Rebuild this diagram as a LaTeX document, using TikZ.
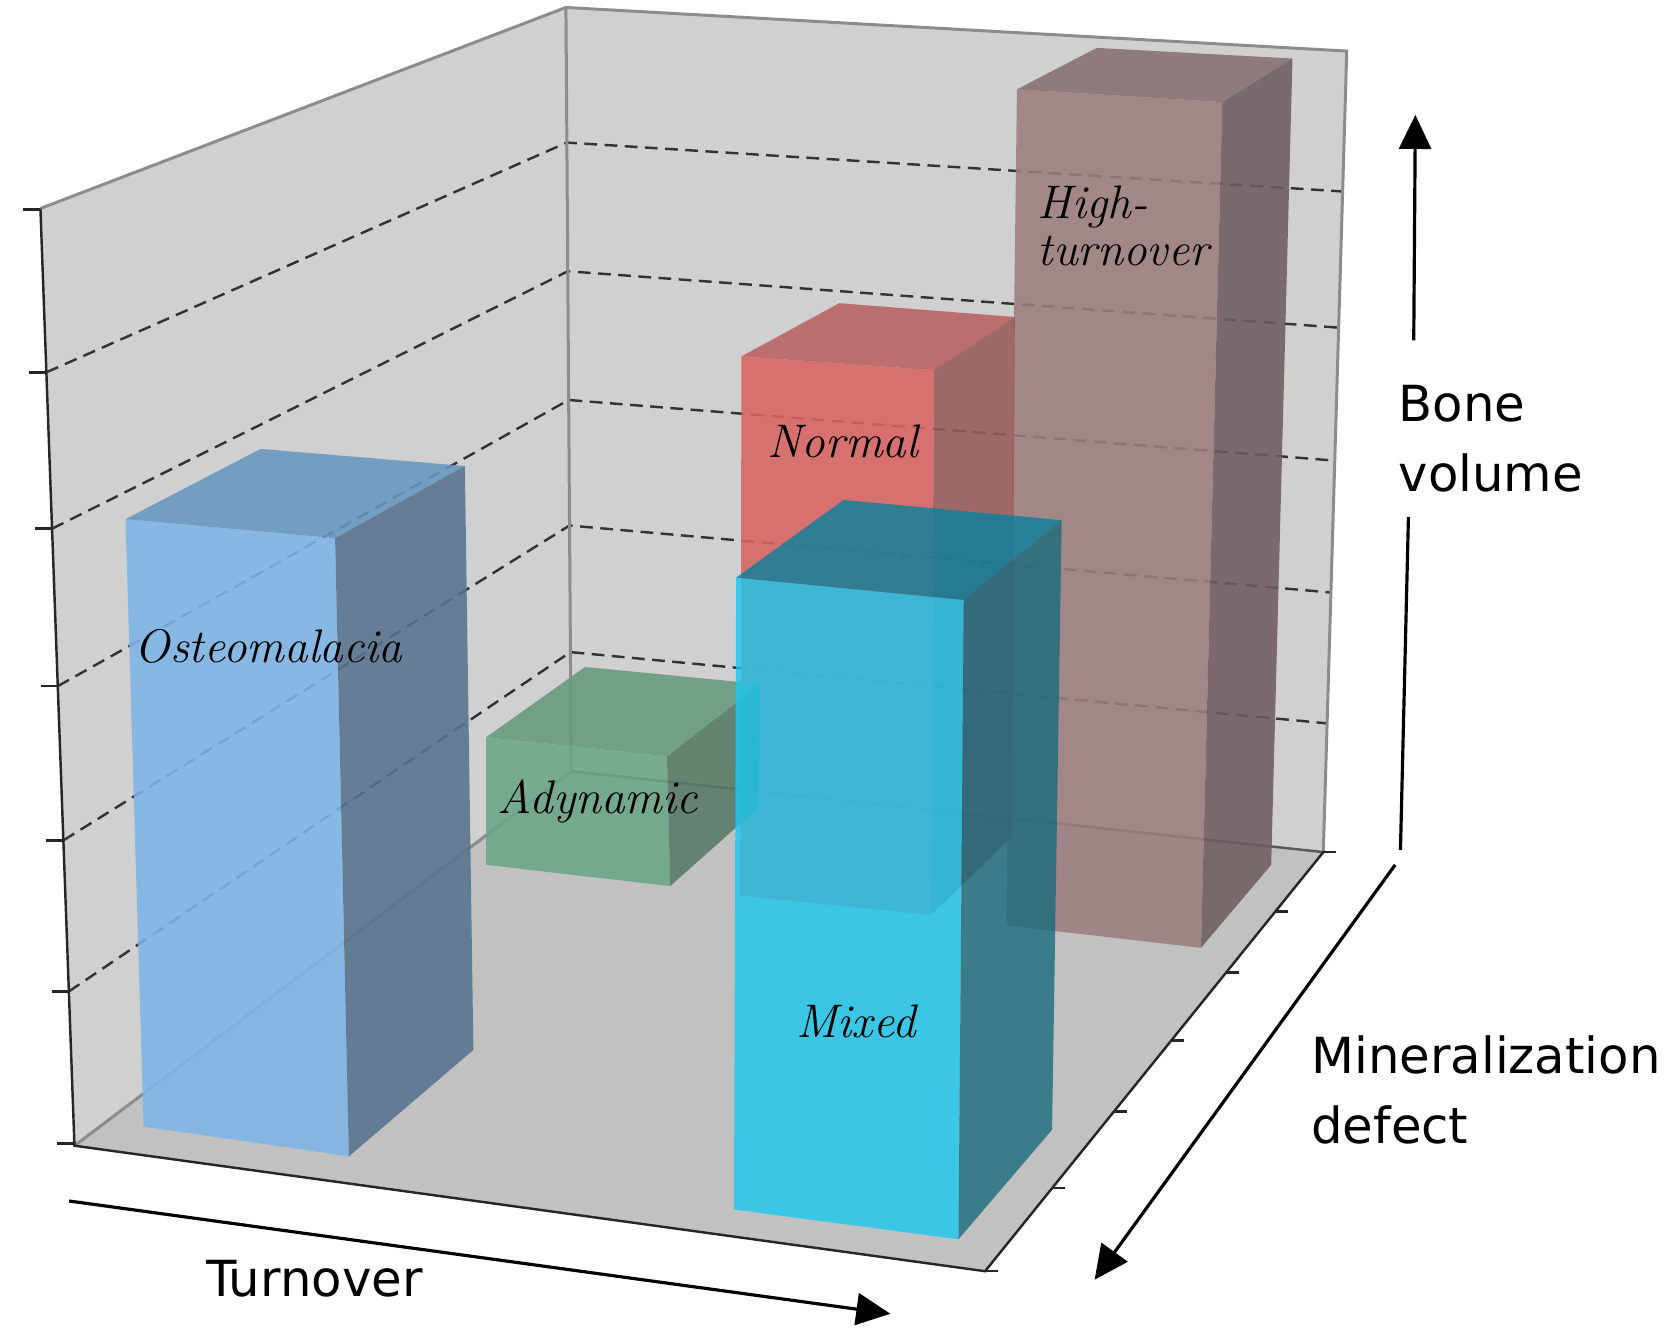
\documentclass[tikz,border=0pt]{standalone}
\usepackage{fontspec}
\newfontfamily\axisfont{DejaVu Sans}
\usetikzlibrary{arrows.meta}
\definecolor{wallc}{HTML}{D0D0D0}
\definecolor{floorc}{HTML}{C1C1C1}
\definecolor{ostF}{HTML}{7DB5E6}
\definecolor{ostT}{HTML}{6898C0}
\definecolor{ostS}{HTML}{57738F}
\definecolor{adyF}{HTML}{6AA688}
\definecolor{adyT}{HTML}{659A7E}
\definecolor{adyS}{HTML}{567A66}
\definecolor{norF}{HTML}{D96462}
\definecolor{norT}{HTML}{BA6061}
\definecolor{norS}{HTML}{985A5B}
\definecolor{higF}{HTML}{9C7D7E}
\definecolor{higT}{HTML}{857071}
\definecolor{higS}{HTML}{6F5D60}
\definecolor{mixF}{HTML}{1BC8EF}
\definecolor{mixT}{HTML}{08809E}
\definecolor{mixS}{HTML}{1A6B7D}
\begin{document}
\begin{tikzpicture}[x=0.01cm,y=-0.01cm,
  edge/.style={draw=black!45,line width=0.8pt},
  darkedge/.style={draw=black!85,line width=0.65pt},
  gridline/.style={draw=black!80,line width=0.65pt,dash pattern=on 0.12cm off 0.07cm},
  face/.style={fill opacity=0.88},
  mixface/.style={fill opacity=0.8},
  barlabel/.style={font=\fontsize{12.6}{14}\selectfont\itshape,anchor=base west,inner sep=0pt},
  axlabel/.style={font=\axisfont\fontsize{13.3}{16}\selectfont,anchor=base west,inner sep=0pt},
  axarrow/.style={line width=0.85pt,-{Triangle[length=0.32cm,width=0.3cm]}},
  plainaxis/.style={line width=0.85pt}
]
\useasboundingbox (0,0) rectangle (1568,1251);
\fill[white] (0,0) rectangle (1568,1251);

% box corners
\coordinate (LT) at (38,196);
\coordinate (BT) at (532,7);
\coordinate (RT) at (1266,48);
\coordinate (BB) at (537,725);
\coordinate (RB) at (1244,801);
\coordinate (LB) at (70,1077);
\coordinate (FB) at (926,1195);

% walls and floor
\fill[wallc] (LT)--(BT)--(BB)--(LB)--cycle;
\fill[wallc] (BT)--(RT)--(RB)--(BB)--cycle;
\fill[floorc] (LB)--(BB)--(RB)--(FB)--cycle;

% dashed grid
\foreach \ya/\yb/\yc in {350/134/180, 497/255/308, 645/376/433, 790/494/557, 932/613/680}
  \draw[gridline] ({38+(\ya-196)*0.036322},\ya) -- ({532+(\yb-7)*0.006964},\yb) -- ({1266-(\yc-48)*0.029216},\yc);

% box edges
\draw[edge] (LT)--(BT)--(RT)--(RB);
\draw[edge] (BT)--(BB);
\draw[edge] (BB)--(LB);
\draw[edge,draw=black!65,line width=0.65pt] (BB)--(RB);
\draw[darkedge] (LT)--(LB)--(FB)--(RB);
\foreach \y in {197,350,497,645,790,932,1075}
  \draw[darkedge] ({38+(\y-196)*0.036322-16},\y) -- ({38+(\y-196)*0.036322},\y);
\foreach \y in {801,857,914,978,1045,1117,1195}
  \draw[darkedge] ({1244-(\y-801)*0.807107},\y) -- ({1256-(\y-801)*0.807107},\y);

% High-turnover bar
\fill[higF,face] (956,84)--(1149,96)--(1129,891)--(946,870)--cycle;
\fill[higT,face] (956,84)--(1031,45)--(1215,55)--(1149,96)--cycle;
\fill[higS,face] (1149,96)--(1215,55)--(1195,813)--(1129,891)--cycle;

% Normal bar
\fill[norF,face] (697,335)--(878,348)--(875,860)--(696,842)--cycle;
\fill[norT,face] (697,335)--(789,285)--(954,298)--(878,348)--cycle;
\fill[norS,face] (878,348)--(954,298)--(951,787)--(875,860)--cycle;

% Adynamic bar
\fill[adyF,face] (457,693)--(627,711)--(630,833)--(457,813)--cycle;
\fill[adyT,face] (457,693)--(550,627)--(715,643)--(627,711)--cycle;
\fill[adyS,face] (627,711)--(715,643)--(713,759)--(630,833)--cycle;

% Osteomalacia bar
\fill[ostF,face] (118,488)--(315,506)--(328,1087)--(135,1059)--cycle;
\fill[ostT,face] (118,488)--(245,422)--(437,438)--(315,506)--cycle;
\fill[ostS,face] (315,506)--(437,438)--(445,987)--(328,1087)--cycle;

% Mixed bar
\fill[mixF,mixface] (692,543)--(906,564)--(901,1165)--(690,1137)--cycle;
\fill[mixT,mixface] (692,543)--(793,470)--(998,489)--(906,564)--cycle;
\fill[mixS,mixface] (906,564)--(998,489)--(989,1062)--(901,1165)--cycle;

% bar labels
\node[barlabel] (lost) at (126,623) {Osteomalacia};
\node[barlabel] (lady) at (467,765) {Adynamic};
\node[barlabel] (lnor) at (721,430) {Normal};
\node[barlabel] (lmix) at (748,975) {Mixed};
\node[barlabel] (lhig1) at (975,205) {High-};
\node[barlabel] (lhig2) at (975,250) {turnover};

% axis labels
\node[axlabel] (bone) at (1314,396) {Bone};
\node[axlabel] (vol) at (1314,462) {volume};
\node[axlabel] (mine) at (1232,1009) {Mineralization};
\node[axlabel] (defe) at (1232,1075) {defect};
\node[axlabel] (turn) at (193,1219) {Turnover};

% axis arrows
\coordinate (bvs) at (1329,320);
\coordinate (bve) at (1330.5,108);
\coordinate (bls) at (1324,486);
\coordinate (ble) at (1316.5,799);
\coordinate (ms) at (1311.5,813);
\coordinate (me) at (1029,1203);
\coordinate (ts) at (65,1129);
\coordinate (te) at (837,1235);
\draw[axarrow] (bvs) -- (bve);
\draw[plainaxis] (bls) -- (ble);
\draw[axarrow] (ms) -- (me);
\draw[axarrow] (ts) -- (te);
\end{tikzpicture}
\end{document}
